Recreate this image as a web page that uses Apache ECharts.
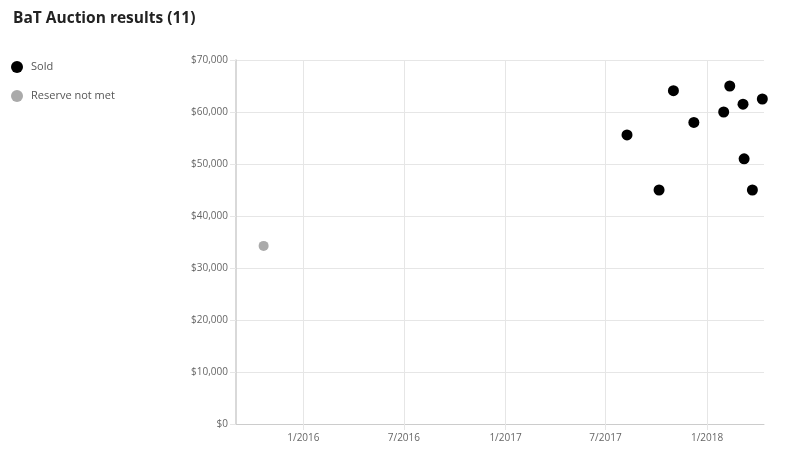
<!DOCTYPE html>
<html lang="en">
<head>
    <meta charset="UTF-8">
    <title>BaT Auction results</title>
    <script src="https://cdn.jsdelivr.net/npm/echarts@6/dist/echarts.min.js"></script>
    <style>
        html, body { margin: 0; padding: 0; background: #fff; }
        #chart { width: 800px; height: 449px; }
    </style>
</head>
<body>
    <div id="chart"></div>
    <script>
        // sold auctions
        const soldDates = ['2017-08-09', '2017-10-06', '2017-11-01', '2017-12-08', '2018-01-31',
                           '2018-02-11', '2018-03-07', '2018-03-09', '2018-03-24', '2018-04-11'];
        const soldPrices = [55600, 45000, 64100, 58000, 60000, 65000, 61500, 51000, 45000, 62500];
        // reserve not met
        const rnmDates = ['2015-10-21'];
        const rnmPrices = [34250];
        // x axis tick labels
        const xTicks = ['2016-01-01', '2016-07-01', '2017-01-01', '2017-07-01', '2018-01-01'];

        // dates go on a plain value axis as timestamps, so the ticks can be set by hand
        const ts = d => +new Date(d + 'T00:00:00');
        const toPairs = (d, v) => d.map((x, i) => [ts(x), v[i]]);
        const tickTimes = xTicks.map(ts);

        const chart = echarts.init(document.getElementById('chart'));
        const fontFamily = '"Open Sans", "Noto Sans", sans-serif';

        chart.setOption({
            animation: false,
            textStyle: { fontFamily: fontFamily },
            title: {
                text: 'BaT Auction results (11)',
                left: 8,
                top: 6,
                textStyle: { fontSize: 15.5, fontWeight: 'bold', color: '#222', fontFamily: fontFamily }
            },
            legend: {
                orient: 'vertical',
                left: 6,
                top: 56,
                itemGap: 17,
                itemWidth: 12,
                itemHeight: 12,
                icon: 'circle',
                textStyle: { fontSize: 11, color: '#555', padding: [0, 0, 0, 3] },
                data: ['Sold', 'Reserve not met']
            },
            grid: { left: 236, right: 36, top: 60, bottom: 25, containLabel: false },
            xAxis: {
                type: 'value',
                min: ts('2015-09-01'),
                max: ts('2018-04-14'),
                axisLine: { lineStyle: { color: '#ccc' } },
                axisTick: { show: true, length: 6, lineStyle: { color: '#e6e6e6' }, customValues: tickTimes },
                axisLabel: {
                    color: '#666',
                    fontSize: 10,
                    margin: 9,
                    customValues: tickTimes,
                    formatter: v => {
                        const d = new Date(v);
                        return (d.getMonth() + 1) + '/' + d.getFullYear();
                    }
                },
                splitLine: { show: true, lineStyle: { color: '#e6e6e6' } }
            },
            yAxis: {
                type: 'value',
                min: 0,
                max: 70000,
                interval: 10000,
                axisLine: { show: true, lineStyle: { color: '#ccc', width: 1.5 } },
                axisTick: { show: true, length: 6, lineStyle: { color: '#e6e6e6' } },
                axisLabel: {
                    color: '#666',
                    fontSize: 10,
                    margin: 8,
                    formatter: v => '$' + v.toLocaleString('en-US')
                },
                splitLine: { lineStyle: { color: '#e6e6e6' } }
            },
            series: [
                {
                    name: 'Sold',
                    type: 'scatter',
                    symbolSize: 11,
                    itemStyle: { color: '#000', opacity: 1 },
                    data: toPairs(soldDates, soldPrices)
                },
                {
                    name: 'Reserve not met',
                    type: 'scatter',
                    symbolSize: 10,
                    itemStyle: { color: '#aaa', opacity: 1 },
                    data: toPairs(rnmDates, rnmPrices)
                }
            ]
        });
    </script>
</body>
</html>
